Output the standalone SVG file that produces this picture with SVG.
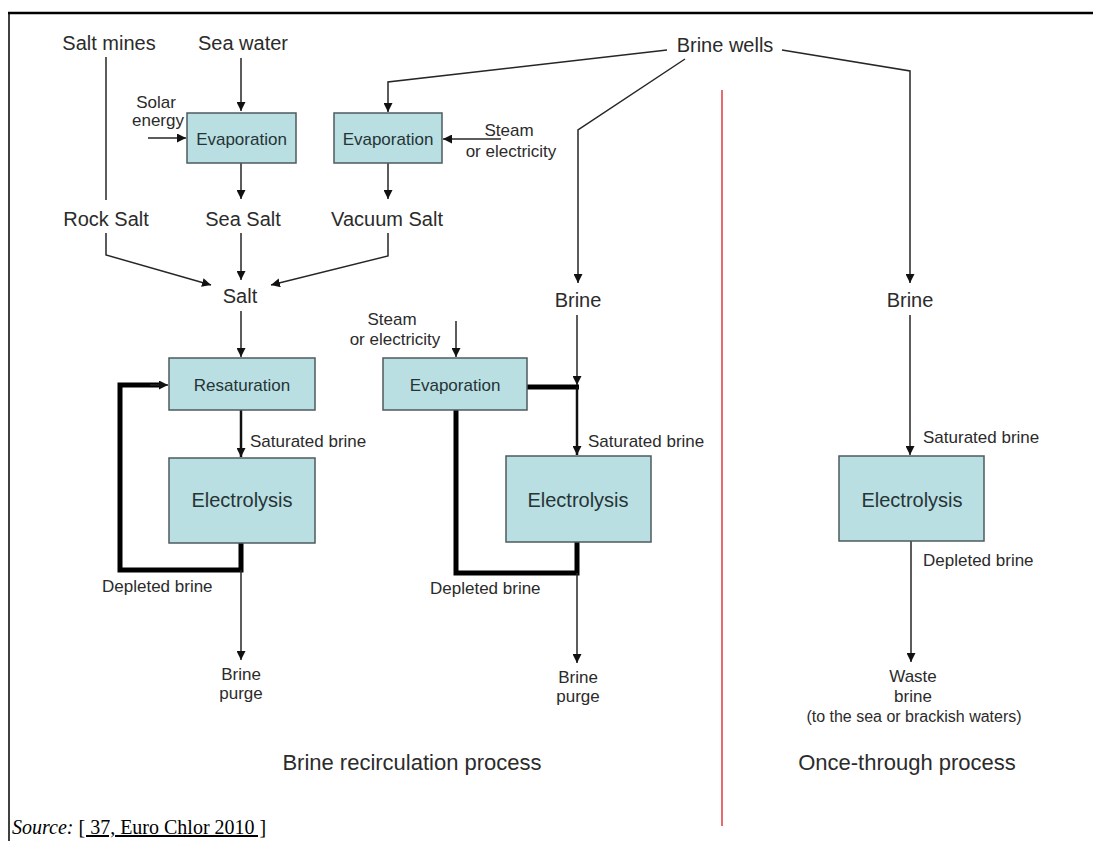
<svg xmlns="http://www.w3.org/2000/svg" width="1093" height="841" viewBox="0 0 1093 841">
<style>
  text { font-family: "Liberation Sans", Arial, sans-serif; fill: #2b2b2b; }
  .lbl { font-size: 20px; text-anchor: middle; }
  .sm { font-size: 17px; }
  .mid { text-anchor: middle; }
  .box { fill: #b9dfe2; stroke: #4d5b5d; stroke-width: 1.5; }
  .boxt { font-size: 17px; text-anchor: middle; fill: #263436; }
  .elt { font-size: 20px; text-anchor: middle; fill: #263436; }
  .ln { fill: none; stroke: #262626; stroke-width: 1.5; }
  .mln { fill: none; stroke: #111; stroke-width: 2.5; }
  .thk { fill: none; stroke: #000; stroke-width: 5; stroke-linejoin: miter; }
  .title { font-size: 22px; text-anchor: middle; }
  .src { font-family: "Liberation Serif", "Times New Roman", serif; font-size: 20px; fill: #000; }
</style>
<defs>
  <marker id="ah" markerUnits="userSpaceOnUse" markerWidth="10" markerHeight="9" refX="9" refY="4.5" orient="auto">
    <path d="M0,0 L9,4.5 L0,9 z" fill="#111"/>
  </marker>
</defs>
<rect x="0" y="0" width="1093" height="841" fill="#fff"/>
<!-- frame -->
<line x1="8" y1="13" x2="1093" y2="13" stroke="#000" stroke-width="2.5"/>
<line x1="9" y1="12" x2="9" y2="841" stroke="#000" stroke-width="1.5"/>
<!-- separator -->
<line x1="722" y1="90" x2="722" y2="826" stroke="#e0474a" stroke-width="1.6"/>

<g id="connectors">
  <path class="ln" d="M106,57 V200"/>
  <path class="ln" d="M241,58 V111" marker-end="url(#ah)"/>
  <path class="ln" d="M148,138 H186" marker-end="url(#ah)"/>
  <path class="ln" d="M241,163 V199" marker-end="url(#ah)"/>
  <path class="ln" d="M667,50 L388,82 V112" marker-end="url(#ah)"/>
  <path class="ln" d="M501,139 H443" marker-end="url(#ah)"/>
  <path class="ln" d="M388,163 V199" marker-end="url(#ah)"/>
  <path class="ln" d="M685,59 L578,130 V283" marker-end="url(#ah)"/>
  <path class="ln" d="M782,50 L910,71 V283" marker-end="url(#ah)"/>
  <path class="ln" d="M106,233 V255 L211,285" marker-end="url(#ah)"/>
  <path class="ln" d="M241,233 V280" marker-end="url(#ah)"/>
  <path class="ln" d="M388,233 V256 L271,285" marker-end="url(#ah)"/>
  <path class="ln" d="M241,311 V357" marker-end="url(#ah)"/>
  <path class="mln" d="M241,410 V457" marker-end="url(#ah)"/>
  <path class="thk" d="M241,543 V570 H120 V385 H160"/>
  <path class="ln" d="M150,385 H168" marker-end="url(#ah)"/>
  <path class="ln" d="M241,570 V660" marker-end="url(#ah)"/>
  <path class="ln" d="M456,321 V357" marker-end="url(#ah)"/>
  <path class="ln" d="M577,315 V385" marker-end="url(#ah)"/>
  <path class="thk" d="M527,387 H579"/>
  <path class="mln" d="M577,387 V455" marker-end="url(#ah)"/>
  <path class="thk" d="M456,410 V573 H577 V542"/>
  <path class="ln" d="M577,573 V663" marker-end="url(#ah)"/>
  <path class="ln" d="M910,315 V455" marker-end="url(#ah)"/>
  <path class="ln" d="M911,541 V662" marker-end="url(#ah)"/>
</g>

<g id="salt-mines"><text class="lbl" x="109" y="50">Salt mines</text></g>
<g id="sea-water"><text class="lbl" x="243" y="50">Sea water</text></g>
<g id="brine-wells"><text class="lbl" x="725" y="52">Brine wells</text></g>
<g id="solar-energy"><text class="sm mid" x="156" y="108">Solar</text><text class="sm mid" x="158" y="126">energy</text></g>
<g id="evaporation-1"><rect class="box" x="187" y="113" width="109" height="50"/><text class="boxt" x="241.5" y="145">Evaporation</text></g>
<g id="evaporation-2"><rect class="box" x="334" y="113" width="108" height="50"/><text class="boxt" x="388" y="145">Evaporation</text></g>
<g id="steam-1"><text class="sm mid" x="509" y="136">Steam</text><text class="sm mid" x="511" y="157">or electricity</text></g>
<g id="rock-salt"><text class="lbl" x="106" y="226">Rock Salt</text></g>
<g id="sea-salt"><text class="lbl" x="243" y="226">Sea Salt</text></g>
<g id="vacuum-salt"><text class="lbl" x="387" y="226">Vacuum Salt</text></g>
<g id="salt"><text class="lbl" x="240" y="303">Salt</text></g>
<g id="brine-mid"><text class="lbl" x="578" y="307">Brine</text></g>
<g id="brine-right"><text class="lbl" x="910" y="307">Brine</text></g>
<g id="steam-2"><text class="sm mid" x="392" y="325">Steam</text><text class="sm mid" x="395" y="345">or electricity</text></g>
<g id="resaturation"><rect class="box" x="169" y="358" width="146" height="52"/><text class="boxt" x="242" y="391">Resaturation</text></g>
<g id="evaporation-3"><rect class="box" x="383" y="358" width="144" height="52"/><text class="boxt" x="455" y="391">Evaporation</text></g>
<g id="sat-brine-1"><text class="sm" x="250" y="447">Saturated brine</text></g>
<g id="sat-brine-2"><text class="sm" x="588" y="447">Saturated brine</text></g>
<g id="sat-brine-3"><text class="sm" x="923" y="443">Saturated brine</text></g>
<g id="electrolysis-1"><rect class="box" x="169" y="458" width="146" height="85"/><text class="elt" x="242" y="507">Electrolysis</text></g>
<g id="electrolysis-2"><rect class="box" x="506" y="456" width="145" height="86"/><text class="elt" x="578" y="507">Electrolysis</text></g>
<g id="electrolysis-3"><rect class="box" x="839" y="456" width="145" height="85"/><text class="elt" x="912" y="507">Electrolysis</text></g>
<g id="depl-brine-1"><text class="sm" x="102" y="592">Depleted brine</text></g>
<g id="depl-brine-2"><text class="sm" x="430" y="594">Depleted brine</text></g>
<g id="depl-brine-3"><text class="sm" x="923" y="566">Depleted brine</text></g>
<g id="purge-1"><text class="sm mid" x="241" y="680">Brine</text><text class="sm mid" x="241" y="699">purge</text></g>
<g id="purge-2"><text class="sm mid" x="578" y="683">Brine</text><text class="sm mid" x="578" y="702">purge</text></g>
<g id="waste"><text class="sm mid" x="913" y="682">Waste</text><text class="sm mid" x="913" y="702">brine</text><text class="mid" style="font-size:16px" x="914" y="722">(to the sea or brackish waters)</text></g>
<g id="titles"><text class="title" x="412" y="770">Brine recirculation process</text><text class="title" x="907" y="770">Once-through process</text></g>
<g id="source"><text class="src" x="12" y="834"><tspan font-style="italic">Source:</tspan> <tspan text-decoration="underline">[ 37, Euro Chlor 2010 ]</tspan></text></g>
</svg>
